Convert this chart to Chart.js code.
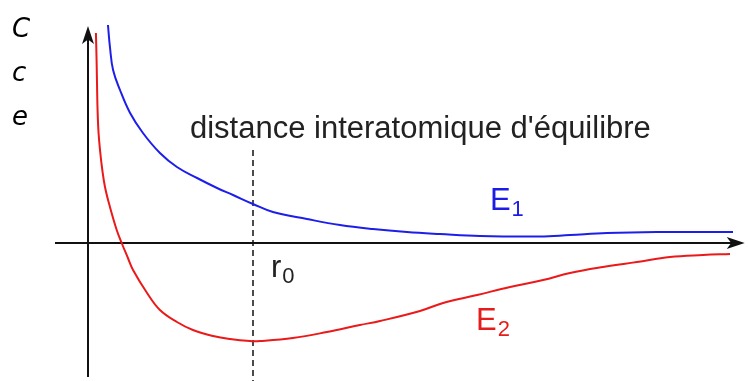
<!DOCTYPE html>
<html>
<head>
<meta charset="utf-8">
<script src="https://cdn.jsdelivr.net/npm/chart.js@4.4.1/dist/chart.umd.min.js"></script>
<style>
  body { margin: 0; background: #fff; }
  #wrap { position: relative; width: 748px; height: 381px; }
  #side {
    position: absolute; left: 12px; top: 6px;
    font-family: 'DejaVu Sans', sans-serif; font-style: italic;
    font-size: 26px; line-height: 44px; color: #000;
  }
</style>
</head>
<body>
<div id="wrap">
  <canvas id="graphe"></canvas>
  <div id="side">C<br>c<br>e</div>
</div>
<script>
// r en unités de r0, énergie en unités arbitraires
const r_E1 = [0.121, 0.133, 0.152, 0.194, 0.255, 0.333, 0.436, 0.539, 0.661, 0.782, 0.879, 1.000, 1.121, 1.327, 1.527, 1.727, 1.933, 2.133, 2.376, 2.739, 2.921, 3.145, 3.448, 3.909];
const E1     = [2.18, 1.96, 1.73, 1.53, 1.30, 1.10, 0.90, 0.76, 0.65, 0.55, 0.48, 0.39, 0.31, 0.24, 0.18, 0.14, 0.11, 0.09, 0.07, 0.065, 0.08, 0.10, 0.11, 0.11];

const r_E2 = [0.048, 0.052, 0.055, 0.058, 0.064, 0.074, 0.086, 0.103, 0.133, 0.174, 0.204, 0.242, 0.273, 0.358, 0.436, 0.539, 0.636, 0.758, 0.861, 0.982, 1.042, 1.242, 1.448, 1.648, 1.770, 2.012, 2.152, 2.358, 2.558, 2.758, 2.921, 3.121, 3.327, 3.527, 3.727, 3.891];
const E2     = [2.10, 1.83, 1.56, 1.33, 1.10, 0.91, 0.74, 0.56, 0.36, 0.13, 0.00, -0.15, -0.27, -0.50, -0.67, -0.79, -0.87, -0.93, -0.96, -0.98, -0.98, -0.95, -0.89, -0.82, -0.78, -0.68, -0.60, -0.52, -0.44, -0.37, -0.30, -0.24, -0.19, -0.14, -0.12, -0.11];

const r0 = 1.0;
const r0_haut = 0.93;

function points(xs, ys) {
    return xs.map(function (x, i) { return { x: x, y: ys[i] }; });
}

const X_MIN = -88 / 165, X_MAX = 4.0;
const Y_MIN = -1.38, Y_MAX = 2.43;

// étiquettes (coordonnées dans le repère du graphe)
const etiquettes = [
    { txt: "distance interatomique d'équilibre", sub: '', x: 0.618, y: 1.05, color: '#222' },
    { txt: 'E', sub: '1', x: 2.436, y: 0.33, color: '#1c1ce6' },
    { txt: 'r', sub: '0', x: 1.109, y: -0.34, color: '#222' },
    { txt: 'E', sub: '2', x: 2.352, y: -0.87, color: '#e61c1c' }
];

function fleche(ctx, x, y, dx, dy) {
    const L = 18, W = 6;
    const px = -dy, py = dx;
    ctx.beginPath();
    ctx.moveTo(x, y);
    ctx.lineTo(x - dx * L + px * W, y - dy * L + py * W);
    ctx.lineTo(x - dx * L * 0.75, y - dy * L * 0.75);
    ctx.lineTo(x - dx * L - px * W, y - dy * L - py * W);
    ctx.closePath();
    ctx.fill();
}

const axes = {
    id: 'axes',
    beforeDatasetsDraw: function (chart) {
        const ctx = chart.ctx;
        const sx = chart.scales.x, sy = chart.scales.y;
        const x0 = sx.getPixelForValue(0), y0 = sy.getPixelForValue(0);
        ctx.save();
        ctx.strokeStyle = '#111';
        ctx.fillStyle = '#111';
        ctx.lineWidth = 2;
        ctx.beginPath();
        ctx.moveTo(sx.getPixelForValue(-0.2), y0);
        ctx.lineTo(sx.getPixelForValue(3.98) - 8, y0);
        ctx.moveTo(x0, sy.getPixelForValue(-1.34));
        ctx.lineTo(x0, sy.getPixelForValue(2.17) + 8);
        ctx.stroke();
        fleche(ctx, sx.getPixelForValue(3.98), y0, 1, 0);
        fleche(ctx, x0, sy.getPixelForValue(2.17), 0, -1);
        ctx.restore();
    },
    afterDraw: function (chart) {
        const ctx = chart.ctx;
        const sx = chart.scales.x, sy = chart.scales.y;
        ctx.save();
        ctx.textBaseline = 'alphabetic';
        etiquettes.forEach(function (e) {
            const x = sx.getPixelForValue(e.x), y = sy.getPixelForValue(e.y);
            ctx.fillStyle = e.color;
            ctx.font = '31px "Liberation Sans", Arial, sans-serif';
            ctx.fillText(e.txt, x, y);
            if (e.sub) {
                const w = ctx.measureText(e.txt).width;
                ctx.font = '22px "Liberation Sans", Arial, sans-serif';
                ctx.fillText(e.sub, x + w + 1, y + 6);
            }
        });
        ctx.restore();
    }
};

new Chart(document.getElementById('graphe'), {
    type: 'scatter',
    data: {
        datasets: [
            {
                label: 'E1',
                data: points(r_E1, E1),
                showLine: true,
                borderColor: 'rgb(30, 30, 235)',
                borderWidth: 2,
                pointRadius: 0,
                tension: 0.4
            },
            {
                label: 'E2',
                data: points(r_E2, E2),
                showLine: true,
                borderColor: 'rgb(235, 25, 25)',
                borderWidth: 2,
                pointRadius: 0,
                tension: 0.4
            },
            {
                label: 'r0',
                data: [{ x: r0, y: r0_haut }, { x: r0, y: Y_MIN }],
                showLine: true,
                borderColor: '#111',
                borderWidth: 1.5,
                borderDash: [6, 4],
                pointRadius: 0
            }
        ]
    },
    options: {
        responsive: true,
        maintainAspectRatio: false,
        animation: false,
        layout: { padding: 0 },
        plugins: {
            legend: { display: false },
            tooltip: { enabled: false }
        },
        scales: {
            x: { type: 'linear', min: X_MIN, max: X_MAX, display: false },
            y: { type: 'linear', min: Y_MIN, max: Y_MAX, display: false }
        }
    },
    plugins: [axes]
});
</script>
</body>
</html>
